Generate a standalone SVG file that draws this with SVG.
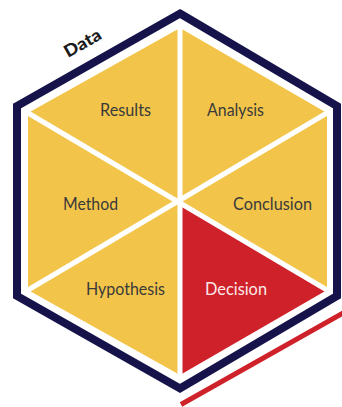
<svg xmlns="http://www.w3.org/2000/svg" width="342" height="407" viewBox="0 0 342 407">
  <style>
    .seg { fill: #f2c54a; }
    .seg-hot { fill: #cf2129; }
    .lbl { font-family: Lato, "Open Sans", "Liberation Sans", sans-serif; font-size: 17px; fill: #3a3a3a; text-anchor: middle; }
    .lbl-hot { fill: #fbe9e9; }
    .sep { stroke: #ffffff; stroke-width: 5; fill: none; }
    .frame { fill: none; stroke: #15134a; stroke-width: 8; stroke-linejoin: miter; }
    .accent { stroke: #cf2129; stroke-width: 5; }
    .title { font-family: Lato, "Open Sans", "Liberation Sans", sans-serif; font-size: 17px; font-weight: 900; fill: #1b1b1b; text-anchor: middle; }
  </style>

  <rect width="342" height="407" fill="#ffffff"/>

  <!-- six wedges of the hexagon, meeting at the centre (180,201.5) -->
  <g id="results">
    <polygon class="seg" points="180,28 28,113 180,201.5"/>
    <text class="lbl" x="125.5" y="116" textLength="51" lengthAdjust="spacingAndGlyphs">Results</text>
  </g>
  <g id="analysis">
    <polygon class="seg" points="180,28 327,113 180,201.5"/>
    <text class="lbl" x="235.5" y="116" textLength="57" lengthAdjust="spacingAndGlyphs">Analysis</text>
  </g>
  <g id="method">
    <polygon class="seg" points="28,113 28,290 180,201.5"/>
    <text class="lbl" x="90.5" y="210" textLength="55" lengthAdjust="spacingAndGlyphs">Method</text>
  </g>
  <g id="conclusion">
    <polygon class="seg" points="327,113 327,290 180,201.5"/>
    <text class="lbl" x="272.5" y="210" textLength="79" lengthAdjust="spacingAndGlyphs">Conclusion</text>
  </g>
  <g id="hypothesis">
    <polygon class="seg" points="28,290 180,375 180,201.5"/>
    <text class="lbl" x="125.5" y="295" textLength="79" lengthAdjust="spacingAndGlyphs">Hypothesis</text>
  </g>
  <g id="decision">
    <polygon class="seg-hot" points="327,290 180,375 180,201.5"/>
    <text class="lbl lbl-hot" x="236" y="295" textLength="62" lengthAdjust="spacingAndGlyphs">Decision</text>
  </g>

  <!-- white dividers between wedges -->
  <g id="dividers">
    <line class="sep" x1="180" y1="20" x2="180" y2="383"/>
    <line class="sep" x1="23" y1="110" x2="332" y2="293"/>
    <line class="sep" x1="23" y1="293" x2="332" y2="110"/>
  </g>

  <!-- outer frame and accent stripe -->
  <g id="frame">
    <polygon class="frame" points="180,13.5 337,106 337,296 180,388.5 17,296 17,106"/>
    <line class="accent" x1="181" y1="404.5" x2="345" y2="312"/>
    <text class="title" transform="translate(82.5,43) rotate(-29.5)" x="0" y="6" textLength="40" lengthAdjust="spacingAndGlyphs">Data</text>
  </g>
</svg>
